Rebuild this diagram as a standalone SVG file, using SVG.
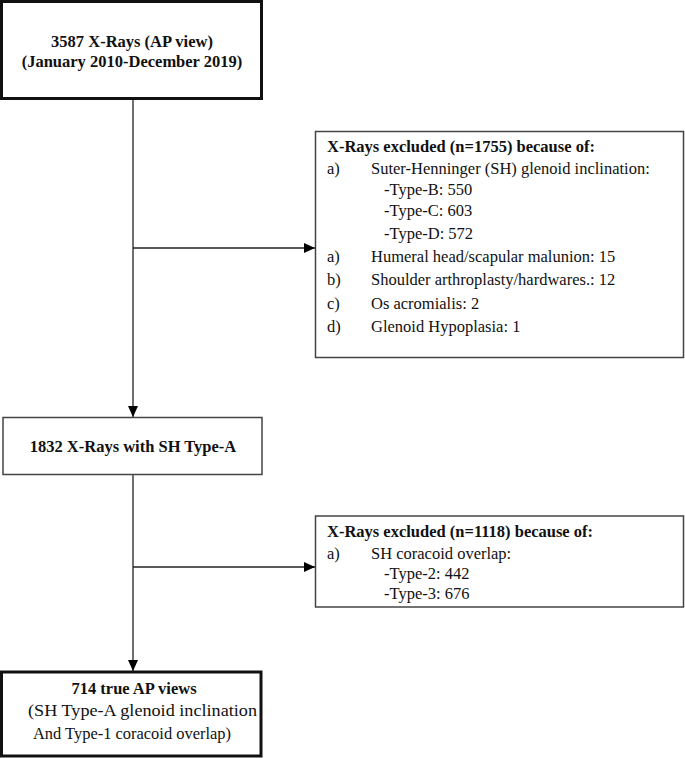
<svg xmlns="http://www.w3.org/2000/svg" width="685" height="758" viewBox="0 0 685 758">
<defs>
<style>
text{font-family:"Liberation Serif","Times New Roman",serif;font-size:16.5px;fill:#111;}
.b{font-weight:bold;}
.c{text-anchor:middle;}
.thick{fill:#fff;stroke:#111;stroke-width:3;}
.thin{fill:#fff;stroke:#444;stroke-width:1.5;}
.conn{stroke:#222;stroke-width:1.3;fill:none;marker-end:url(#ah);}
</style>
<marker id="ah" markerUnits="userSpaceOnUse" markerWidth="12" markerHeight="10" refX="11" refY="5" orient="auto">
<path d="M0,0 L11,5 L0,10 Z" fill="#000"/>
</marker>
</defs>
<rect width="685" height="758" fill="#fff"/>
<g id="connectors">
<line class="conn" x1="133" y1="99" x2="133" y2="417"/>
<line class="conn" x1="133" y1="248" x2="315" y2="248"/>
<line class="conn" x1="133" y1="474" x2="133" y2="671"/>
<line class="conn" x1="133" y1="567" x2="315" y2="567"/>
</g>
<g id="n1">
<rect class="thick" x="1.5" y="1.5" width="260" height="97"/>
<text class="b c" x="132" y="47">3587 X-Rays (AP view)</text>
<text class="b c" x="132" y="67">(January 2010-December 2019)</text>
</g>
<g id="n2">
<rect class="thin" x="315.5" y="131.5" width="368" height="226"/>
<text class="b" x="327" y="152">X-Rays excluded (n=1755) because of:</text>
<text x="327" y="174">a)</text><text x="371" y="174">Suter-Henninger (SH) glenoid inclination:</text>
<text x="384" y="195">-Type-B: 550</text>
<text x="384" y="216">-Type-C: 603</text>
<text x="384" y="239">-Type-D: 572</text>
<text x="327" y="262">a)</text><text x="371" y="262">Humeral head/scapular malunion: 15</text>
<text x="327" y="285">b)</text><text x="371" y="285">Shoulder arthroplasty/hardwares.: 12</text>
<text x="327" y="309">c)</text><text x="371" y="309">Os acromialis: 2</text>
<text x="327" y="332">d)</text><text x="371" y="332">Glenoid Hypoplasia: 1</text>
</g>
<g id="n3">
<rect class="thin" x="3" y="417.5" width="259" height="57"/>
<text class="b c" x="133" y="452">1832 X-Rays with SH Type-A</text>
</g>
<g id="n4">
<rect class="thin" x="315.5" y="516" width="368" height="91"/>
<text class="b" x="327" y="537">X-Rays excluded (n=1118) because of:</text>
<text x="327" y="559">a)</text><text x="371" y="559">SH coracoid overlap:</text>
<text x="384" y="579">-Type-2: 442</text>
<text x="384" y="599">-Type-3: 676</text>
</g>
<g id="n5">
<rect class="thick" x="1.5" y="672" width="259.5" height="84"/>
<text class="b c" x="134" y="694">714 true AP views</text>
<text x="28" y="716" textLength="229" lengthAdjust="spacingAndGlyphs">(SH Type-A glenoid inclination</text>
<text x="33" y="739" textLength="198" lengthAdjust="spacingAndGlyphs">And Type-1 coracoid overlap)</text>
</g>
</svg>
